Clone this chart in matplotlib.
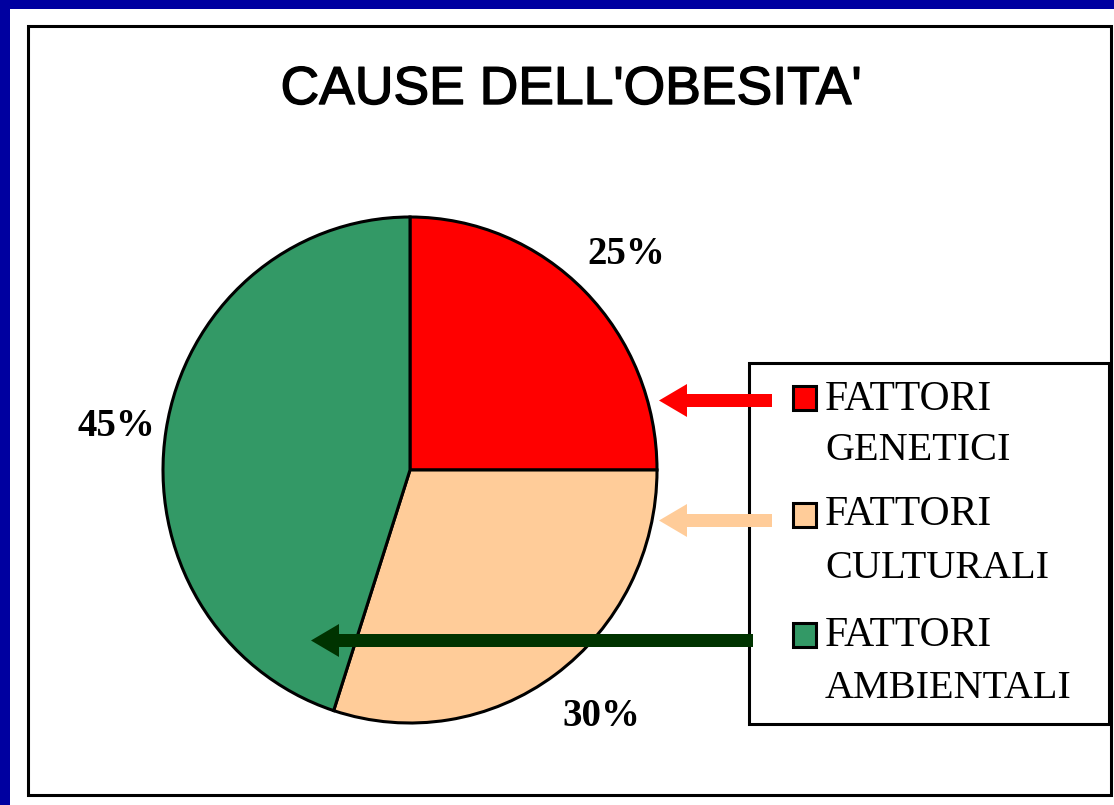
import matplotlib
matplotlib.use("Agg")
import matplotlib.pyplot as plt
import matplotlib.patheffects as pe
from matplotlib.patches import Rectangle, FancyArrow

# dati del grafico
cause = ["FATTORI\nGENETICI", "FATTORI\nCULTURALI", "FATTORI\nAMBIENTALI"]
percentuali = [25, 30, 45]
colori = ["#FF0000", "#FFCC99", "#339966"]
colori_frecce = ["#FF0000", "#FFCC99", "#003300"]

W, H = 1114, 805
fig = plt.figure(figsize=(W / 100, H / 100), dpi=100)
fig.patch.set_facecolor("#0000A0")

def px_axes(z):
    a = fig.add_axes([0, 0, 1, 1], zorder=z)
    a.set_xlim(0, W)
    a.set_ylim(H, 0)
    a.axis("off")
    a.patch.set_alpha(0)
    return a

# sfondo bianco e cornice nera
bg = px_axes(0)
bg.add_patch(Rectangle((10, 9), W, H, facecolor="white", edgecolor="none"))
bg.add_patch(Rectangle((27.5, 26.5), 1083, 768, facecolor="none",
                       edgecolor="black", lw=2.2))

# torta (leggermente ovale)
x0, x1, y0, y1 = 163, 657, 217, 723
ax = fig.add_axes([x0 / W, (H - y1) / H, (x1 - x0) / W, (y1 - y0) / H], zorder=1)
ax.pie(percentuali, colors=colori, startangle=90, counterclock=False,
       radius=1, wedgeprops=dict(edgecolor="black", linewidth=2.2))
ax.set_aspect("auto")
ax.set_xlim(-1.0, 1.0)
ax.set_ylim(-1.0, 1.0)
ax.patch.set_alpha(0)

top = px_axes(2)

# titolo, tratto un po' più spesso
top.text(571, 104, "CAUSE DELL'OBESITA'", ha="center", va="baseline",
         fontsize=38.5, family="Liberation Sans", color="black",
         path_effects=[pe.withStroke(linewidth=1.0, foreground="black")])

# etichette percentuali
pos_etichette = [(626, 254), (601, 716), (116, 426)]
for v, (x, y) in zip(percentuali, pos_etichette):
    top.text(x, y, f"{v}%", ha="center", va="center", fontsize=28,
             family="Liberation Serif", fontweight="bold", color="black")

# legenda
top.add_patch(Rectangle((749, 363.5), 360, 360, facecolor="white",
                        edgecolor="black", lw=2.2, zorder=1))
top.add_patch(Rectangle((1108, 364), 5, 362, facecolor="black",
                        edgecolor="none", zorder=2))
quad_y = [385, 502, 622]
base_y = [(410, 460), (525, 578), (646, 698)]
for c, col, qy, (b1, b2) in zip(cause, colori, quad_y, base_y):
    top.add_patch(Rectangle((793, qy + 1), 23, 24, facecolor=col,
                            edgecolor="black", lw=2.2, zorder=3))
    r1, r2 = c.split("\n")
    top.text(825, b1, r1, ha="left", va="baseline", fontsize=30,
             family="Liberation Serif", color="black", zorder=3)
    top.text(825, b2, r2, ha="left", va="baseline", fontsize=29,
             family="Liberation Serif", color="black", zorder=3)

# frecce dalla legenda alla torta
frecce = [(772, 659, 400.5), (772, 659, 520.5), (753, 311, 640.5)]
for (xs, xe, y), col in zip(frecce, colori_frecce):
    top.add_patch(FancyArrow(xs, y, xe - xs, 0, width=13, head_width=33,
                             head_length=28, length_includes_head=True,
                             facecolor=col, edgecolor="none", zorder=4))

fig.savefig("out.png", dpi=100, facecolor=fig.get_facecolor())
